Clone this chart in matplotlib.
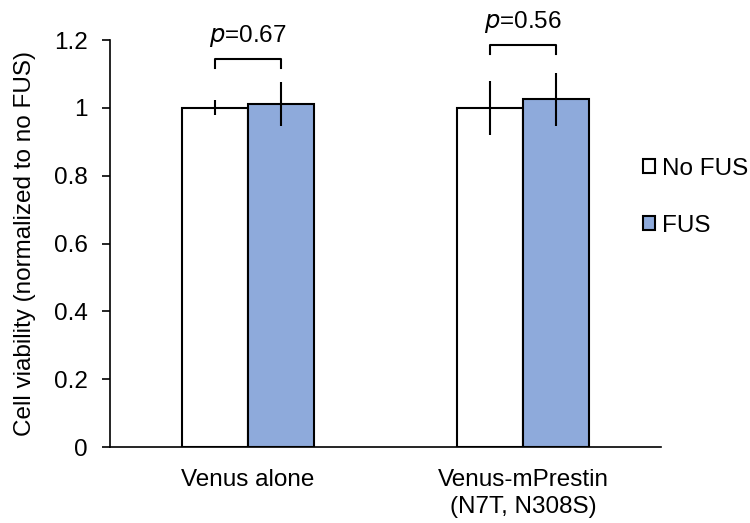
import numpy as np
import matplotlib.pyplot as plt
from matplotlib.patches import Patch

plt.rcParams['font.family'] = ['Liberation Sans', 'DejaVu Sans']

# --- data ---
categories = ["Venus alone", "Venus-mPrestin\n(N7T, N308S)"]
no_fus = [1.0, 1.0]
no_fus_err = [0.022, 0.08]
fus = [1.01, 1.025]
fus_err = [0.065, 0.078]
p_labels = ["0.67", "0.56"]
bracket_y = [1.144, 1.186]

WHITE = "#ffffff"
BLUE = "#8eaadb"
FS = 17.5

fig = plt.figure(figsize=(7.5, 5.23), dpi=100)
ax = fig.add_axes([0.1467, 0.1453, 0.7346, 0.7782])

x = np.arange(len(categories))
w = 0.24
ax.bar(x - w / 2, no_fus, w, color=WHITE, edgecolor="black", linewidth=1.5, zorder=2)
ax.bar(x + w / 2, fus, w, color=BLUE, edgecolor="black", linewidth=1.5, zorder=2)
ax.errorbar(x - w / 2, no_fus, yerr=no_fus_err, fmt="none", ecolor="black", elinewidth=1.5, capsize=0, zorder=3)
ax.errorbar(x + w / 2, fus, yerr=fus_err, fmt="none", ecolor="black", elinewidth=1.5, capsize=0, zorder=3)

# significance brackets
for i in range(len(categories)):
    y = bracket_y[i]
    ax.plot([x[i] - w / 2, x[i] - w / 2, x[i] + w / 2, x[i] + w / 2],
            [y - 0.027, y, y, y - 0.027], color="black", lw=1.5, clip_on=False)
    ax.text(x[i], y + 0.03, f"$\\it{{p}}$=" + p_labels[i], ha="center", va="bottom",
            fontsize=FS, clip_on=False)

ax.set_xlim(-0.5, 1.5)
ax.set_ylim(0, 1.2)
ax.set_yticks([0, 0.2, 0.4, 0.6, 0.8, 1.0, 1.2])
ax.set_yticklabels(["0", "0.2", "0.4", "0.6", "0.8", "1", "1.2"])
ax.set_xticks(x)
ax.set_xticklabels(categories, fontsize=FS, linespacing=1.3)
ax.tick_params(axis="x", length=0, pad=16)
ax.tick_params(axis="y", labelsize=FS, length=6, width=1.2, direction="out", pad=10)
for s in ["top", "right"]:
    ax.spines[s].set_visible(False)
for s in ["left", "bottom"]:
    ax.spines[s].set_linewidth(1.2)

ax.set_ylabel("Cell viability (normalized to no FUS)", fontsize=FS, labelpad=13)

handles = [Patch(facecolor=WHITE, edgecolor="black", linewidth=1.5),
           Patch(facecolor=BLUE, edgecolor="black", linewidth=1.5)]
fig.legend(handles, ["No FUS", "FUS"], loc="center left", bbox_to_anchor=(0.857, 0.623),
           frameon=False, fontsize=FS, handlelength=0.5, handleheight=0.5,
           handletextpad=0.3, labelspacing=1.45, borderpad=0, borderaxespad=0)

fig.savefig("out.png", dpi=100)
